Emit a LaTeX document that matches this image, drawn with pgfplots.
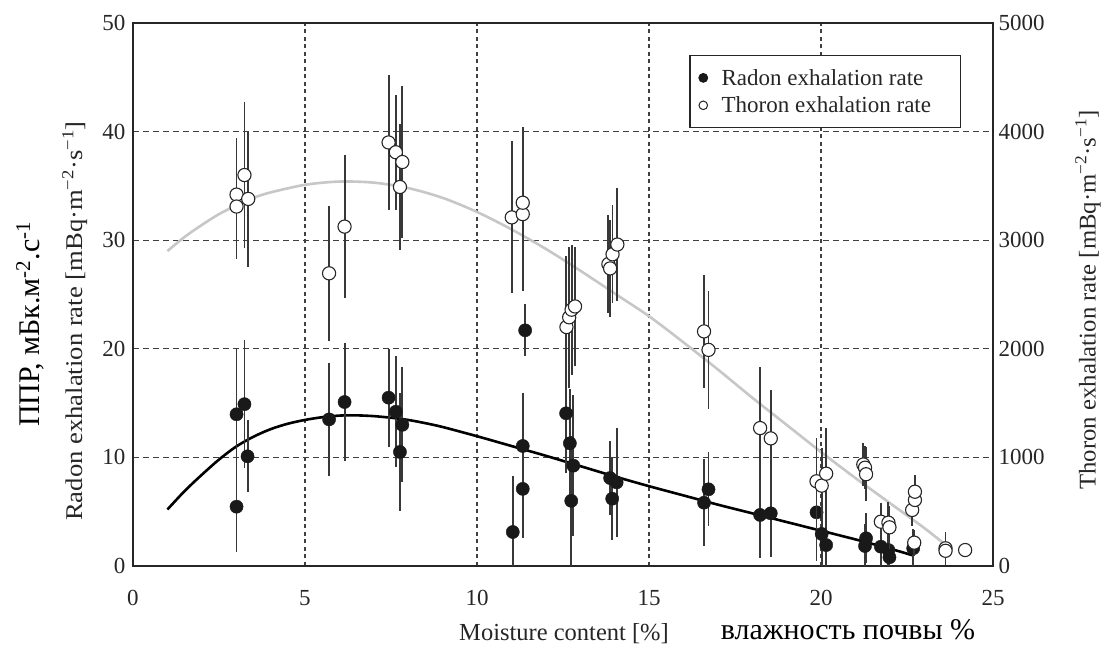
\documentclass[border=0pt]{standalone}
\usepackage{fontspec}
\setmainfont{Liberation Serif}
\usepackage{pgfplots}
\pgfplotsset{compat=1.18}
\usepackage{pgfplotstable}

% Radon exhalation rate [mBq m^-2 s^-1]: moisture, rate, error
\pgfplotstableread{
x y e
3.01 13.97 6.0
3.01 5.46 4.2
3.24 14.9 5.9
3.33 10.1 3.3
5.70 13.5 5.2
6.15 15.1 5.4
7.43 15.5 4.5
7.64 14.2 5.1
7.83 13.0 5.3
7.76 10.5 5.4
11.04 3.13 5.2
11.40 21.7 2.4
11.33 11.05 4.9
11.33 7.1 4.5
12.59 14.06 5.5
12.70 11.3 5.0
12.80 9.24 6.5
12.74 6.0 6.0
13.87 8.1 3.4
14.06 7.7 5.0
13.93 6.2 3.8
16.60 5.83 4.0
16.73 7.06 3.4
18.23 4.7 4.0
18.54 4.85 4.0
19.87 4.94 4.5
20.02 2.95 3.2
20.15 1.93 2.5
21.31 2.55 2.3
21.28 1.84 2.0
21.74 1.78 2.0
21.96 1.47 1.8
21.99 0.8 1.5
22.68 1.63 1.8
}\radon

% Thoron exhalation rate [mBq m^-2 s^-1]: moisture, rate, error
\pgfplotstableread{
x y e
3.01 3420 520
3.01 3310 480
3.24 3600 675
3.35 3380 630
5.70 2695 620
6.15 3125 660
7.43 3900 620
7.64 3810 530
7.83 3720 700
7.76 3490 580
11.01 3210 700
11.33 3240 710
11.33 3345 700
12.60 2200 650
12.68 2290 650
12.75 2360 600
12.85 2390 550
13.82 2780 450
13.87 2740 450
13.94 2870 450
14.08 2960 520
16.60 2160 520
16.73 1990 540
18.23 1270 560
18.54 1175 450
19.87 780 400
20.02 740 350
20.15 850 420
21.23 935 200
21.28 905 200
21.31 845 250
21.74 408 170
21.96 399 190
21.99 356 200
22.65 516 150
22.73 608 150
22.73 684 150
22.71 215 120
23.62 163 150
23.62 140 130
24.19 147 0
}\thoron

% fitted trend, radon
\pgfplotstableread{
x y
1.0 5.2
1.5 6.9
2.0 8.4
2.5 9.8
3.0 11.0
3.5 11.9
4.0 12.6
4.5 13.1
5.0 13.45
5.5 13.7
6.0 13.85
6.5 13.87
7.0 13.8
7.5 13.65
8.0 13.45
8.5 13.15
9.0 12.8
10.0 11.95
11.0 11.05
12.0 10.15
13.0 9.2
14.0 8.25
15.0 7.35
16.0 6.5
17.0 5.65
18.0 4.85
19.0 4.05
20.0 3.25
21.0 2.45
22.0 1.6
22.7 0.95
}\radonfit

% fitted trend, thoron
\pgfplotstableread{
x y
1.0 2900
1.5 3030
2.0 3140
2.5 3240
3.0 3320
3.5 3390
4.0 3440
5.0 3510
6.0 3540
7.0 3530
8.0 3480
9.0 3390
10.0 3260
11.0 3100
12.0 2920
13.0 2720
14.0 2510
15.0 2300
16.0 2060
17.0 1810
18.0 1550
19.0 1300
20.0 1050
21.0 810
22.0 580
23.0 350
23.8 150
}\thoronfit

\pgfplotsset{
  common/.style={
    at={(0,0)}, anchor=south west, scale only axis,
    width=860pt, height=543pt,
    xmin=0, xmax=25,
    major tick length=0pt,
    axis line style={black!85, line width=1.3pt},
    tick label style={font=\fontsize{23}{23}\selectfont, text=black!85},
    /pgf/number format/assume math mode=true,
    /pgf/number format/1000 sep={},
    scaled ticks=false,
  },
  ebar/.style={
    error bars/.cd, y dir=both, y explicit,
    error mark=none,
    error bar style={line width=1.9pt, black!78},
    /pgfplots/.cd,
  },
}

\newcommand{\legtext}[1]{\makebox[240pt][l]{\hspace{12pt}#1}}

\begin{document}
\begin{tikzpicture}[x=1pt,y=1pt]
\useasboundingbox (-133,-82) rectangle (971,566);

\begin{axis}[
  common,
  ymin=0, ymax=50,
  xtick={0,5,...,25}, ytick={0,10,...,50},
  ytick pos=left, xtick pos=bottom,
  grid=major,
  x grid style={black!75, line width=1.3pt, dash pattern=on 4pt off 3.5pt},
  y grid style={black!75, line width=1.3pt, dash pattern=on 6pt off 4pt},
  yticklabel style={xshift=-4pt},
  xticklabel style={yshift=-21pt},
]
\addplot[black, line width=2.6pt, smooth] table {\radonfit};
\addplot[only marks, mark=*, mark size=6.6pt,
  mark options={fill=black!90, draw=black!90}, ebar]
  table[x=x, y=y, y error=e] {\radon};
\end{axis}

\begin{axis}[
  common,
  ymin=0, ymax=5000,
  axis x line=none,
  axis y line*=right,
  ytick={0,1000,...,5000},
  yticklabel style={xshift=2pt},
  legend style={at={(rel axis cs:0.963,0.941)}, anchor=north east,
    draw=black!85, line width=1.2pt, fill=white,
    font=\fontsize{23}{23}\selectfont, text=black!85,
    inner xsep=9pt, inner ysep=11.5pt, row sep=6pt},
  legend cell align=left,
]
\addlegendimage{only marks, mark=*, mark size=4.3pt, mark options={fill=black!90, draw=black!90}}
\addlegendentry{\legtext{Radon exhalation rate}}
\addlegendimage{only marks, mark=*, mark size=4.3pt, mark options={fill=white, draw=black!85, line width=1pt}}
\addlegendentry{\legtext{Thoron exhalation rate}}
\addplot[black!22, line width=2.6pt, smooth, forget plot] table {\thoronfit};
\addplot[forget plot, only marks, mark=*, mark size=6.6pt,
  mark options={fill=white, draw=black!85, line width=1.1pt}, ebar]
  table[x=x, y=y, y error=e] {\thoron};
\end{axis}

% axis titles
\node[rotate=90, font=\fontsize{24}{24}\selectfont, text=black!85] at (-58,245)
  {\scalebox{1.11}[1]{Radon exhalation rate [mBq·m\textsuperscript{−2}·s\textsuperscript{−1}]}};
\node[rotate=90, font=\fontsize{30}{30}\selectfont] at (-103,242)
  {ППР, мБк.м\textsuperscript{-2}.с\textsuperscript{-1}};
\node[rotate=90, font=\fontsize{24}{24}\selectfont, text=black!85] at (955,266)
  {\scalebox{1.03}[1]{Thoron exhalation rate [mBq·m\textsuperscript{−2}·s\textsuperscript{−1}]}};
\node[anchor=base, font=\fontsize{24.5}{24.5}\selectfont, text=black!85] at (431,-75)
  {Moisture content [\%]};
\node[anchor=base, font=\fontsize{30}{30}\selectfont] at (715,-74)
  {влажность почвы \%};
\end{tikzpicture}
\end{document}
